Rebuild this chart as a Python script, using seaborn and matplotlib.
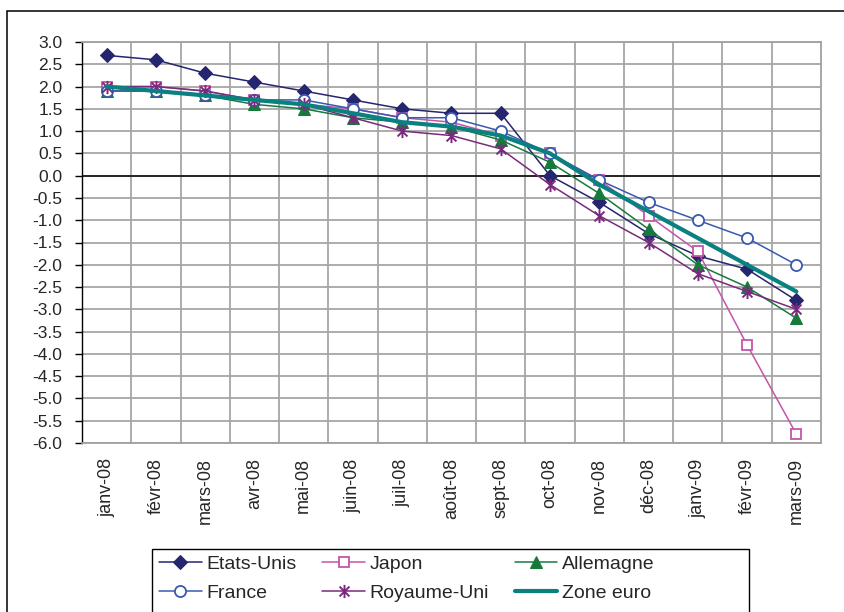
import numpy as np
import pandas as pd
import matplotlib
matplotlib.use("Agg")
import matplotlib.pyplot as plt
from matplotlib.path import Path
from matplotlib.patches import Rectangle
import seaborn as sns

# Data -------------------------------------------------------------
months = ["janv-08", "févr-08", "mars-08", "avr-08", "mai-08", "juin-08", "juil-08",
          "août-08", "sept-08", "oct-08", "nov-08", "déc-08", "janv-09", "févr-09", "mars-09"]

etats_unis = [2.7, 2.6, 2.3, 2.1, 1.9, 1.7, 1.5, 1.4, 1.4, 0.0, -0.6, -1.3, -1.8, -2.1, -2.8]
japon = [2.0, 2.0, 1.9, 1.7, 1.6, 1.5, 1.3, 1.2, 0.9, 0.5, -0.1, -0.9, -1.7, -3.8, -5.8]
allemagne = [1.9, 1.9, 1.8, 1.6, 1.5, 1.3, 1.2, 1.1, 0.8, 0.3, -0.4, -1.2, -2.0, -2.5, -3.2]
france = [1.9, 1.9, 1.8, 1.7, 1.7, 1.5, 1.3, 1.3, 1.0, 0.5, -0.1, -0.6, -1.0, -1.4, -2.0]
royaume_uni = [2.0, 2.0, 1.9, 1.7, 1.6, 1.3, 1.0, 0.9, 0.6, -0.2, -0.9, -1.5, -2.2, -2.6, -3.0]
zone_euro = [2.0, 1.9, 1.8, 1.7, 1.6, 1.4, 1.2, 1.1, 0.9, 0.5, -0.2, -0.8, -1.4, -2.0, -2.6]

y_ticks = np.arange(-6.0, 3.01, 0.5)

# Style ------------------------------------------------------------
sns.set_style("white")
plt.rcParams["font.family"] = ["Liberation Sans", "DejaVu Sans"]

# asterisk marker like excel: vertical bar + X
star = Path([(0, -1), (0, 1), (-0.75, -0.75), (0.75, 0.75), (-0.75, 0.75), (0.75, -0.75)],
            [Path.MOVETO, Path.LINETO, Path.MOVETO, Path.LINETO, Path.MOVETO, Path.LINETO])

series = [
    ("Etats-Unis", etats_unis, dict(color="#252570", marker="D", markersize=7,
                                    markerfacecolor="#252570", markeredgecolor="#252570", linewidth=1.1)),
    ("Japon", japon, dict(color="#C455AA", marker="s", markersize=7.5,
                          markerfacecolor="white", markeredgecolor="#C455AA", markeredgewidth=1.3, linewidth=1.1)),
    ("Allemagne", allemagne, dict(color="#177A3C", marker="^", markersize=9,
                                  markerfacecolor="#177A3C", markeredgecolor="#177A3C", linewidth=1.1)),
    ("France", france, dict(color="#3A58B0", marker="o", markersize=8,
                            markerfacecolor="white", markeredgecolor="#3A58B0", markeredgewidth=1.3, linewidth=1.1)),
    ("Royaume-Uni", royaume_uni, dict(color="#7A2A7C", marker=star, markersize=9.5,
                                      markerfacecolor="none", markeredgecolor="#7A2A7C", markeredgewidth=1.4, linewidth=1.1)),
    ("Zone euro", zone_euro, dict(color="#0A8080", linewidth=3.0)),
]

x = np.arange(len(months))

fig = plt.figure(figsize=(8.45, 6.12), dpi=100)
ax = fig.add_axes([82 / 845, 1 - 443 / 612, 739 / 845, 401 / 612])

for name, values, kws in series:
    df = pd.DataFrame({"x": x, "y": values})
    sns.lineplot(data=df, x="x", y="y", label=name, ax=ax, **kws)

# Axes -------------------------------------------------------------
ax.set_xlim(-0.5, len(months) - 0.5)
ax.set_ylim(-6.0, 3.0)
ax.set_yticks(y_ticks)
ax.set_yticklabels([f"{v:.1f}" for v in y_ticks])
ax.set_xticks(x)
ax.set_xticklabels(months, rotation=90, va="top", ha="center")
ax.set_xlabel("")
ax.set_ylabel("")

# gridlines between categories, like excel
for b in np.arange(0.5, len(months) - 0.5, 1):
    ax.axvline(b, color="#A6A6A6", linewidth=1.3, zorder=0)
for v in y_ticks:
    ax.axhline(v, color="#A6A6A6", linewidth=1.3, zorder=0)
ax.axhline(0, color="black", linewidth=1.1, zorder=1)

ax.tick_params(axis="y", direction="out", length=5, width=1, color="black",
               pad=9, labelsize=12.5, left=True)
ax.tick_params(axis="x", length=0, pad=11, labelsize=13)

ax.spines["left"].set_color("black")
ax.spines["left"].set_linewidth(1.0)
for s in ["top", "right", "bottom"]:
    ax.spines[s].set_color("#A0A0A0")
    ax.spines[s].set_linewidth(1.3)

# Legend -----------------------------------------------------------
handles, labels = ax.get_legend_handles_labels()
ax.get_legend().remove()
order = [0, 3, 1, 4, 2, 5]  # fill row-wise like the original
leg = fig.legend([handles[i] for i in order], [labels[i] for i in order],
                 ncol=3, loc="upper left", bbox_to_anchor=(159 / 845, 1 - 555 / 612),
                 fontsize=14, frameon=False,
                 handlelength=2.2, handletextpad=0.25, columnspacing=1.3,
                 labelspacing=0.6, borderpad=0, borderaxespad=0)

# legend box drawn separately so it spans the same width as the original
fig.patches.append(Rectangle((152 / 845, -0.05), (749 - 152) / 845, 1 - 549 / 612 + 0.05,
                             transform=fig.transFigure, fill=False,
                             edgecolor="black", linewidth=1.0, figure=fig))

# outer chart border (left + top only visible)
fig.patches.append(Rectangle((7.5 / 845, -0.05), 1.0, 1 - 10.5 / 612 + 0.05,
                             transform=fig.transFigure, fill=False,
                             edgecolor="black", linewidth=1.1, figure=fig))

fig.savefig("out.png", dpi=100)
